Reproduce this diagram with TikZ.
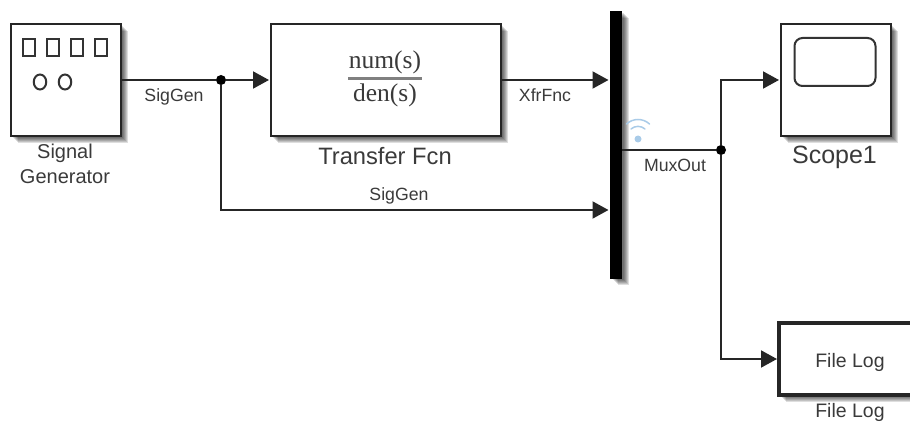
\documentclass[tikz,border=0pt]{standalone}
\usepackage{fontspec}
\setmainfont{Liberation Sans}
\newfontfamily\serifish{Liberation Serif}
\usetikzlibrary{arrows.meta,calc,shapes.geometric}
\pgfdeclarelayer{bg}
\pgfsetlayers{bg,main}
\definecolor{txt}{HTML}{3A3A3A}
\definecolor{wifiblue}{HTML}{A9CBE8}
\newcommand{\fsz}[1]{\fontsize{#1}{#1}\selectfont}
\tikzset{
  block/.style={draw=black!85,line width=2.4pt,fill=white,inner sep=0pt,outer sep=0pt,minimum width=#1,minimum height=112pt,text=txt},
  lbl/.style={text=txt,inner sep=0pt,align=center},
  sig/.style={font=\fsz{17.7},lbl},
  wire/.style={draw=black!85,line width=2pt},
  arrowwire/.style={wire,-{Triangle[length=16pt,width=17pt]},shorten >=2pt},
  dot/.style={circle,fill=black,inner sep=0pt,minimum size=10pt,outer sep=0pt},
  icon/.style={draw=black!80,line width=2pt},
  wifi/.style={draw=wifiblue,line width=1.5pt,line cap=round},
  shadowlayer/.style={fill=black,fill opacity=.13,draw=none}
}
\newcommand{\softshadow}[1]{%
  \begin{pgfonlayer}{bg}
  \foreach \s in {2,3,...,7}
    \fill[shadowlayer] ($(#1.south west)+(\s,\s)$) rectangle ($(#1.north east)+(\s,\s)$);
  \end{pgfonlayer}}
\begin{document}
\begin{tikzpicture}[x=1pt,y=-1pt]
\useasboundingbox (0,0) rectangle (910,422);
% blocks
\node[block=110pt] (gen) at (66,80) {};
\node[block=230pt] (tf) at (386,80) {};
\node[block=110pt] (scope) at (836,80) {};
\node[draw=black,fill=black,minimum width=11pt,minimum height=267pt,inner sep=0pt,outer sep=0pt] (mux) at (616,144.5) {};
\node[block=140pt,minimum height=72pt,line width=4pt] (log) at (849,359) {};
\softshadow{gen}
\softshadow{tf}
\softshadow{scope}
\softshadow{mux}
\softshadow{log}
% icons in generator
\foreach \i/\x in {a/29,b/53,c/77,d/101}
  \node[icon,minimum width=12pt,minimum height=17pt,inner sep=0pt] (sq\i) at (\x,47.5) {};
\node[icon,ellipse,minimum width=12.5pt,minimum height=15pt,inner sep=0pt] (oa) at (40,82) {};
\node[icon,ellipse,minimum width=12.5pt,minimum height=15pt,inner sep=0pt] (ob) at (65,82) {};
% scope screen
\node[icon,rounded corners=8pt,minimum width=81pt,minimum height=48pt,inner sep=0pt] (screen) at (835,62) {};
% fraction
\node[font=\serifish\fsz{25.5},lbl] (num) at (385,62) {num(s)};
\node[font=\serifish\fsz{25.5},lbl] (den) at (385,95) {den(s)};
\draw[draw=black!50,line width=3pt] (348,78.5) coordinate (fa) -- (422,78.5) coordinate (fb);
% junctions
\node[dot] (j1) at (221,80) {};
\node[dot] (j2) at (721,150) {};
% connectors
\draw[wire] (gen.east) -- (j1);
\draw[arrowwire] (j1) -- (tf.west);
\coordinate (m2) at (mux.west |- 0,210);
\draw[arrowwire] (j1) |- (m2);
\draw[arrowwire] (tf.east) -- (mux.west |- tf.east);
\draw[wire] (mux.east |- j2) -- (j2);
\draw[arrowwire] (j2) |- (scope.west);
\draw[arrowwire] (j2) |- (log.west);
% wifi
\fill[wifiblue] (638,139) circle (3.5pt);
\draw[wifi] (631,129) .. controls (635,125.5) and (641,125.5) .. (645,129);
\draw[wifi] (626.5,124) .. controls (633,118) and (643,118) .. (649.5,124);
% labels
\node[sig] (l1) at (174,96.5) {SigGen};
\node[sig] (l2) at (399,196) {SigGen};
\node[sig] (l3) at (545,95) {XfrFnc};
\node[sig] (l4) at (675,165.5) {MuxOut};
\node[lbl,font=\fsz{20}] (l5) at (65,153.5) {Signal};
\node[lbl,font=\fsz{20}] (l6) at (65,177) {Generator};
\node[lbl,font=\fsz{23.7}] (l7) at (385,156) {Transfer Fcn};
\node[lbl,font=\fsz{25}] (l8) at (834.5,157) {Scope1};
\node[lbl,font=\fsz{19.5}] (l9) at (850,362) {File Log};
\node[lbl,font=\fsz{19.5}] (l10) at (850,412.5) {File Log};
\end{tikzpicture}
\end{document}
